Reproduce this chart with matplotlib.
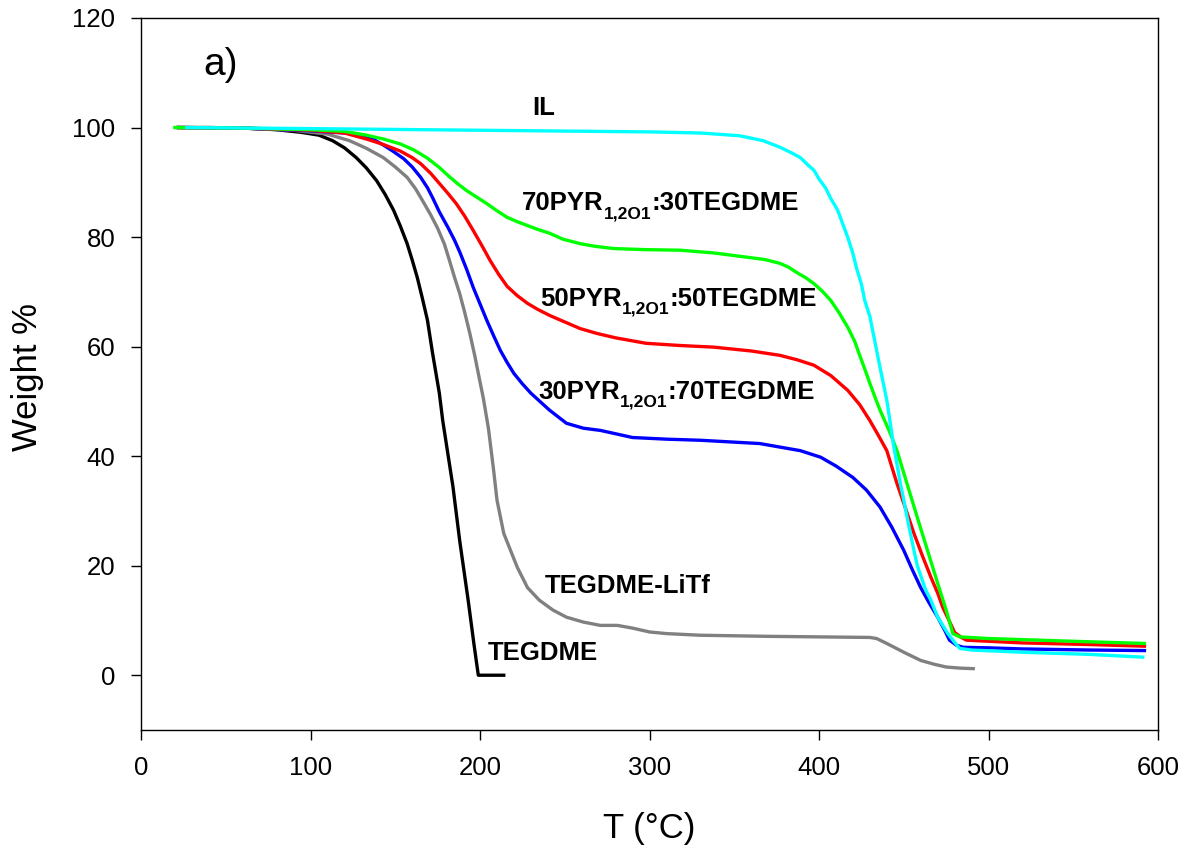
import matplotlib
matplotlib.use("Agg")
import matplotlib.pyplot as plt

plt.rcParams['font.family'] = ['Liberation Sans', 'DejaVu Sans']

# TGA curves: temperature (C) vs weight (%)
t_tegdme = [22, 40, 60, 80, 95, 105, 113, 120, 127, 133, 139, 144, 149, 153, 157, 160, 163, 166, 169, 172, 176, 178, 181, 184, 188, 193, 196.5, 199, 214]
w_tegdme = [100, 100, 99.9, 99.6, 99.1, 98.6, 97.6, 96.3, 94.5, 92.6, 90.3, 87.8, 84.9, 82, 78.8, 75.8, 72.6, 68.8, 64.8, 58.8, 51.5, 46.5, 40.5, 34.5, 24.6, 13.7, 5.5, 0, 0]

t_litf = [22, 60, 90, 110, 123, 133, 143, 150, 157, 162, 166, 171, 175, 179, 182, 185, 188, 191, 194, 197, 199, 202, 205, 208, 210, 214, 218, 222, 228, 235, 243, 251, 261, 271, 281, 290, 300, 310, 330, 370, 400, 430, 434, 440, 450, 460, 468, 475, 483, 491]
w_litf = [100, 99.9, 99.5, 98.8, 97.6, 96.2, 94.5, 92.8, 90.9, 88.8, 86.7, 84.0, 81.6, 78.7, 75.7, 72.6, 69.7, 66.2, 62.4, 58.2, 55.1, 50.5, 45, 37.5, 32, 25.9, 22.8, 19.7, 16, 13.7, 11.9, 10.6, 9.7, 9.1, 9.1, 8.6, 7.9, 7.6, 7.3, 7.1, 7.0, 6.9, 6.7, 5.8, 4.2, 2.7, 2.0, 1.5, 1.3, 1.2]

t_30pyr = [22, 60, 100, 125, 135, 143, 149, 155, 160, 165, 169, 172, 176, 181, 185, 188, 192, 196, 200, 204, 208, 212, 216, 220, 225, 230, 236, 241, 251, 261, 271, 290, 310, 330, 365, 389, 401, 410, 420, 428, 436, 443, 450, 455, 460, 465, 470, 474, 477, 481, 485, 500, 520, 560, 592]
w_30pyr = [100, 99.9, 99.4, 98.9, 98.2, 96.8, 95.6, 94.3, 92.8, 90.9, 89.0, 87.2, 84.6, 81.8, 79.4, 77.3, 74.2, 70.8, 67.8, 64.8, 62, 59.3, 57.1, 55.1, 53.2, 51.5, 49.8, 48.4, 46, 45.1, 44.7, 43.4, 43.1, 42.9, 42.3, 41, 39.8, 38.2, 36.1, 33.8, 30.7, 27, 22.8, 19.3, 16, 13.2, 10.6, 8.3, 6.4, 5.5, 5.1, 5.0, 4.8, 4.6, 4.5]

t_50pyr = [22, 60, 100, 120, 133, 143, 153, 160, 165, 171, 176, 181, 186, 191, 196, 201, 206, 211, 216, 222, 228, 234, 241, 250, 259, 269, 280, 298, 318, 338, 360, 377, 387, 397, 407, 417, 424, 430, 435, 440, 446, 451, 456, 461, 466, 470, 473, 477, 480, 484, 487, 500, 520, 560, 592]
w_50pyr = [100, 99.9, 99.5, 99.0, 97.9, 96.9, 95.7, 94.5, 93.4, 91.6, 89.8, 88, 86.1, 83.8, 81.2, 78.5, 75.7, 73.2, 71.0, 69.3, 67.9, 66.8, 65.7, 64.5, 63.3, 62.4, 61.6, 60.6, 60.2, 59.9, 59.2, 58.4, 57.6, 56.6, 54.7, 52, 49.4, 46.5, 43.8, 41, 35, 30.5, 25.9, 21.8, 17.9, 15, 12.4, 9.8, 7.8, 6.9, 6.4, 6.2, 5.9, 5.6, 5.3]

t_70pyr = [20, 60, 100, 120, 133, 143, 153, 161, 169, 176, 182, 187, 192, 198, 204, 210, 216, 222, 228, 234, 241, 249, 259, 268, 279, 298, 318, 338, 358, 368, 377, 382, 387, 392, 397, 402, 407, 412, 417, 421, 424, 427, 430, 433, 436, 439, 442, 446, 452, 458, 464, 470, 475, 479, 483, 500, 520, 560, 592]
w_70pyr = [100, 99.9, 99.6, 99.3, 98.6, 97.9, 97, 95.9, 94.4, 92.7, 91.0, 89.7, 88.5, 87.3, 86.1, 84.8, 83.6, 82.8, 82.1, 81.4, 80.7, 79.6, 78.8, 78.3, 77.9, 77.7, 77.6, 77.1, 76.3, 75.9, 75.2, 74.5, 73.5, 72.6, 71.5, 70.1, 68.4, 66.1, 63.5, 61, 58.4, 55.9, 53.3, 50.8, 48.4, 46.3, 44.2, 41, 34.9, 28.8, 22.8, 16.8, 11.9, 7.6, 7.0, 6.7, 6.5, 6.1, 5.8]

t_il = [27, 100, 200, 300, 330, 353, 367, 377, 383, 389, 393, 397, 400, 404, 407, 411, 414, 417, 420, 422, 425, 427, 430, 432, 434, 436, 438, 440, 442, 444, 446, 448, 450, 452, 454, 456, 458, 461, 463, 466, 470, 476, 480, 483, 490, 520, 560, 591]
w_il = [100, 99.8, 99.5, 99.2, 99.0, 98.5, 97.6, 96.4, 95.5, 94.5, 93.3, 92.2, 90.6, 88.9, 87, 84.9, 82.4, 79.9, 77, 74.5, 71.4, 68.4, 65.5, 62.4, 59.3, 56.2, 53.2, 50.2, 46.1, 42, 38.5, 35, 32, 28.8, 25.8, 22.8, 20, 17.3, 15.5, 13.7, 10.6, 7.6, 6.0, 4.9, 4.6, 4.2, 3.8, 3.3]

fig = plt.figure(figsize=(11.91, 8.56), dpi=100)
ax = fig.add_axes([0.1184, 0.1472, 0.8539, 0.8318])

lw = 2.4
ax.plot(t_tegdme, w_tegdme, color='black', lw=lw)
ax.plot(t_litf, w_litf, color='#808080', lw=lw)
ax.plot(t_30pyr, w_30pyr, color='#0000ff', lw=lw)
ax.plot(t_50pyr, w_50pyr, color='#ff0000', lw=lw)
ax.plot(t_70pyr, w_70pyr, color='#00ff00', lw=lw)
ax.plot(t_il, w_il, color='#00ffff', lw=lw)

big = 18.5
small = 12.5
lab = dict(fontsize=big, fontweight='bold', ha='left', va='baseline')


def sub_label(x, y, head, sub, tail):
    t1 = ax.text(x, y, head, **lab)
    t2 = ax.annotate(sub, xy=(1, 0), xycoords=t1, xytext=(0, -4.5),
                     textcoords='offset points', fontsize=small,
                     fontweight='bold', ha='left', va='bottom')
    ax.annotate(tail, xy=(1, 0), xycoords=(t2, t1), ha='left', va='bottom',
                fontsize=big, fontweight='bold')


ax.text(230.7, 102.2, 'IL', **lab)
sub_label(224.8, 84.9, '70PYR', '1,2O1', ':30TEGDME')
sub_label(235.4, 67.5, '50PYR', '1,2O1', ':50TEGDME')
sub_label(234.2, 50.5, '30PYR', '1,2O1', ':70TEGDME')
ax.text(238.3, 15.0, 'TEGDME-LiTf', **lab)
ax.text(204.7, 2.7, 'TEGDME', **lab)
ax.text(36.6, 109.5, 'a)', fontsize=28, ha='left', va='baseline')

ax.set_xlim(0, 600)
ax.set_ylim(-10, 120)
ax.set_xticks(range(0, 601, 100))
ax.set_yticks(range(0, 121, 20))
ax.tick_params(direction='out', length=7.5, width=1, pad=11, labelsize=18.5,
               top=False, right=False)
for s in ax.spines.values():
    s.set_linewidth(1)
ax.set_xlabel('T (°C)', fontsize=25)
ax.set_ylabel('Weight %', fontsize=25)
ax.xaxis.set_label_coords(0.5, -0.115)
ax.yaxis.set_label_coords(-0.095, 0.496)

fig.savefig('out.png', dpi=100)
